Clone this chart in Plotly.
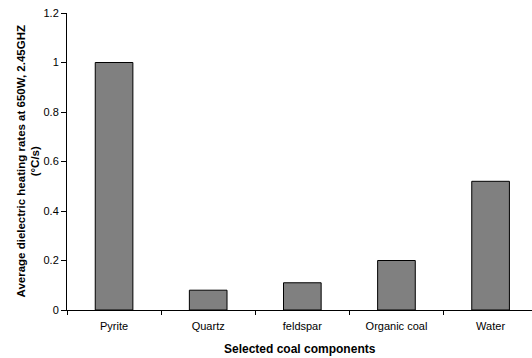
import plotly.graph_objects as go

categories = ["Pyrite", "Quartz", "feldspar", "Organic coal", "Water"]
heating_rates = [1.0, 0.08, 0.11, 0.2, 0.52]
y_ticks = [0, 0.2, 0.4, 0.6, 0.8, 1, 1.2]
y_tick_labels = ["0", "0.2", "0.4", "0.6", "0.8", "1", "1.2"]

fig = go.Figure(go.Bar(
    x=categories, y=heating_rates,
    marker=dict(color="#808080", line=dict(color="#000000", width=1)),
    width=0.4,
))

font = "Liberation Sans, Arial, sans-serif"
fig.update_layout(
    width=532, height=358,
    margin=dict(l=67, r=0, t=13, b=48),
    paper_bgcolor="white", plot_bgcolor="white",
    showlegend=False,
    font=dict(family=font, size=11, color="black"),
)
fig.update_xaxes(
    range=[-0.5, 4.44], automargin=False,
    showline=True, linecolor="black", linewidth=1,
    ticks="outside", ticklen=4, tickcolor="black", tickson="boundaries",
    ticklabelstandoff=6,
    showgrid=False,
    tickfont=dict(size=11),
)
fig.update_yaxes(
    range=[0, 1.2], automargin=False,
    tickvals=y_ticks, ticktext=y_tick_labels,
    showline=True, linecolor="black", linewidth=1,
    ticks="outside", ticklen=5, tickcolor="black",
    ticklabeloverflow="allow",
    showgrid=False, zeroline=False,
    tickfont=dict(size=11),
)
fig.add_annotation(
    text="<b>Selected coal components</b>", font=dict(size=12),
    xref="paper", yref="paper", x=0.5, y=0, xanchor="center", yanchor="middle",
    yshift=-39, showarrow=False,
)
fig.add_annotation(
    text="<b>Average dielectric heating rates at 650W, 2.45GHZ<br>(°C/s)</b>",
    font=dict(size=11.5), textangle=-90,
    xref="paper", yref="paper", x=0, y=0.5, xanchor="center", yanchor="middle",
    xshift=-39, showarrow=False,
)

fig.write_html(
    "out.html",
    config={"displayModeBar": False},
    post_script="document.body.style.margin='0';document.body.style.overflow='hidden';",
)
